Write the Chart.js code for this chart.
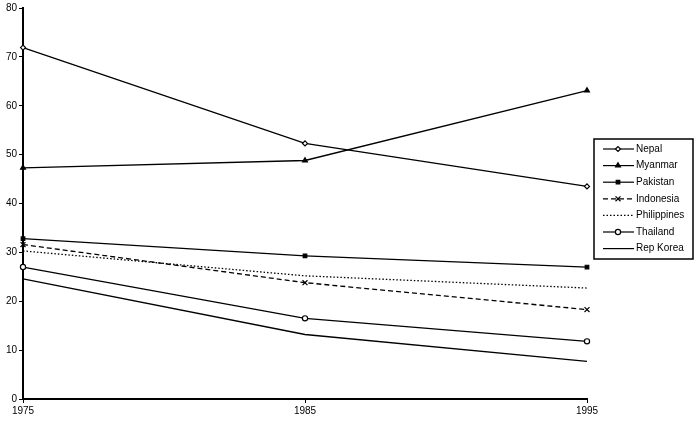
<!DOCTYPE html>
<html>
<head>
<meta charset="utf-8">
<script src="https://cdn.jsdelivr.net/npm/chart.js@4/dist/chart.umd.min.js"></script>
<style>
  body { margin: 0; background: #fff; }
  #wrap { width: 700px; height: 421px; }
</style>
</head>
<body>
<div id="wrap"><canvas id="rates"></canvas></div>
<script>
var years = ['1975', '1985', '1995'];
var nepal = [71.9, 52.3, 43.5];
var myanmar = [47.3, 48.8, 63.1];
var pakistan = [32.8, 29.3, 27.0];
var indonesia = [31.6, 23.8, 18.3];
var philippines = [30.3, 25.2, 22.7];
var thailand = [27.0, 16.5, 11.8];
var repKorea = [24.6, 13.2, 7.7];

function series(label, data, pointStyle, radius, filled, dash) {
    return {
        label: label,
        data: data,
        borderColor: '#000',
        borderWidth: 1.3,
        borderDash: dash || [],
        pointStyle: pointStyle,
        pointRadius: radius,
        pointBorderColor: '#000',
        pointBorderWidth: 1.2,
        pointBackgroundColor: filled ? '#000' : '#fff',
        tension: 0
    };
}

// legend drawn by hand so each entry shows line + marker like the original
var legendBox = {
    id: 'legendBox',
    afterDraw: function (chart) {
        var ctx = chart.ctx;
        var x0 = 594, y0 = 139, w = 99, h = 120;
        ctx.save();
        ctx.fillStyle = '#fff';
        ctx.fillRect(x0, y0, w, h);
        ctx.strokeStyle = '#000';
        ctx.lineWidth = 1.5;
        ctx.strokeRect(x0, y0, w, h);
        ctx.font = '10px "Liberation Sans", Arial, sans-serif';
        ctx.textBaseline = 'middle';
        chart.data.datasets.forEach(function (ds, i) {
            var y = y0 + 10 + i * 16.6;
            ctx.strokeStyle = '#000';
            ctx.lineWidth = 1.2;
            ctx.setLineDash(ds.borderDash);
            ctx.beginPath();
            ctx.moveTo(603, y);
            ctx.lineTo(634, y);
            ctx.stroke();
            ctx.setLineDash([]);
            if (ds.pointRadius > 0) {
                ctx.fillStyle = ds.pointBackgroundColor;
                ctx.strokeStyle = '#000';
                ctx.lineWidth = ds.pointBorderWidth;
                Chart.helpers.drawPoint(ctx, {
                    pointStyle: ds.pointStyle,
                    radius: ds.pointRadius,
                    borderWidth: ds.pointBorderWidth
                }, 618, y);
            }
            ctx.fillStyle = '#000';
            ctx.fillText(ds.label, 636, y);
        });
        ctx.restore();
    }
};

new Chart(document.getElementById('rates'), {
    type: 'line',
    data: {
        labels: years,
        datasets: [
            series('Nepal', nepal, 'rectRot', 2.5, false),
            series('Myanmar', myanmar, 'triangle', 2.8, true),
            series('Pakistan', pakistan, 'rect', 2.5, true),
            series('Indonesia', indonesia, 'crossRot', 3.5, false, [5, 3]),
            series('Philippines', philippines, 'circle', 0, false, [1.5, 2]),
            series('Thailand', thailand, 'circle', 2.6, false),
            series('Rep Korea', repKorea, 'circle', 0, false)
        ]
    },
    options: {
        responsive: true,
        maintainAspectRatio: false,
        animation: false,
        layout: { padding: { top: 5, right: 113, left: 0, bottom: 0 } },
        plugins: {
            legend: { display: false },
            tooltip: { enabled: false }
        },
        scales: {
            x: {
                offset: false,
                afterFit: function (s) { s.height = 22; },
                grid: { drawOnChartArea: false, drawTicks: true, tickLength: 4, color: '#000' },
                border: { color: '#000', width: 2 },
                ticks: { color: '#000', padding: 2, maxRotation: 0,
                         font: { family: '"Liberation Sans", Arial, sans-serif', size: 10 } }
            },
            y: {
                min: 0,
                max: 80,
                afterFit: function (s) { s.width = 23; },
                grid: { drawOnChartArea: false, drawTicks: true, tickLength: 4, color: '#000' },
                border: { color: '#000', width: 2 },
                ticks: { stepSize: 10, color: '#000', padding: 2,
                         font: { family: '"Liberation Sans", Arial, sans-serif', size: 10 } }
            }
        }
    },
    plugins: [legendBox]
});
</script>
</body>
</html>
